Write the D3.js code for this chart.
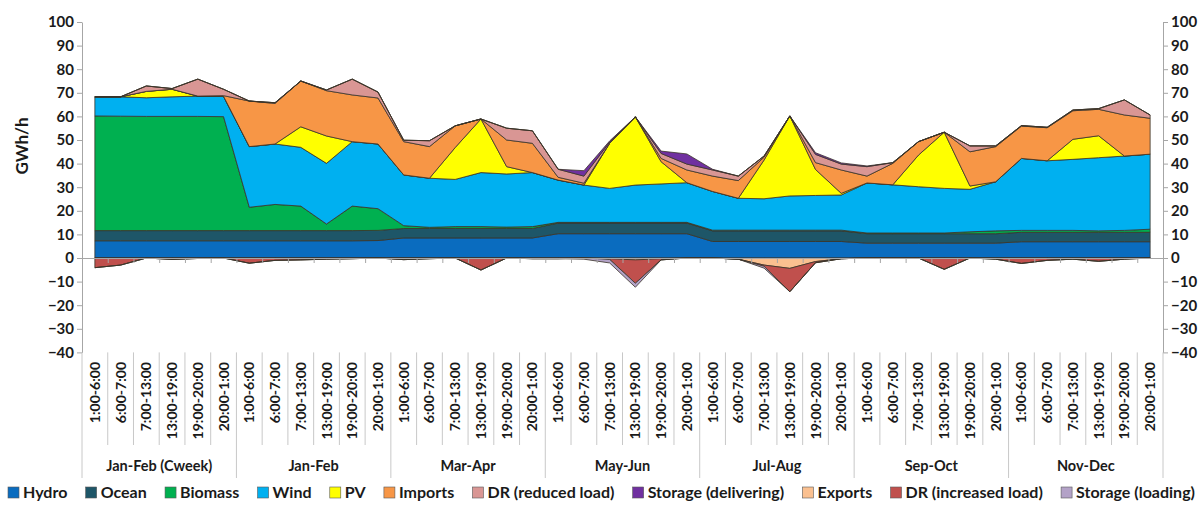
<!DOCTYPE html>
<html><head><meta charset="utf-8">
<script src="https://cdn.jsdelivr.net/npm/d3@7"></script>
<style>
body{margin:0;background:#fff}
svg{display:block}
text{font-family:Lato,"Open Sans",sans-serif;font-weight:bold;fill:#1a1a1a}
</style>
</head><body>
<svg id="c" width="1200" height="511"></svg>
<script>
const groups = ["Jan-Feb (Cweek)","Jan-Feb","Mar-Apr","May-Jun","Jul-Aug","Sep-Oct","Nov-Dec"];
const slots = ["1:00-6:00","6:00-7:00","7:00-13:00","13:00-19:00","19:00-20:00","20:00-1:00"];
const yTicks = [-40,-30,-20,-10,0,10,20,30,40,50,60,70,80,90,100];
const seriesNames = ["Hydro","Ocean","Biomass","Wind","PV","Imports","DR (reduced load)","Storage (delivering)","Exports","DR (increased load)","Storage (loading)"];

const hydro = [
  7.3,7.3,7.3,7.3,7.3,7.3,
  7.3,7.3,7.3,7.3,7.3,7.4,
  8.5,8.5,8.5,8.5,8.5,8.5,
  10.3,10.3,10.3,10.3,10.3,10.3,
  7.0,7.0,7.0,7.0,7.0,7.0,
  6.3,6.3,6.3,6.3,6.3,6.3,
  6.9,6.9,6.9,6.9,6.9,6.9];
const ocean = [
  4.3,4.3,4.3,4.3,4.3,4.3,
  4.3,4.3,4.3,4.3,4.3,4.3,
  4.0,4.0,4.0,4.0,4.0,4.0,
  4.5,4.5,4.5,4.5,4.5,4.5,
  4.5,4.5,4.5,4.5,4.5,4.5,
  4.0,4.0,4.0,4.0,4.0,4.0,
  4.0,4.0,4.0,4.0,4.0,4.0];
const biomass = [
  48.6,48.5,48.4,48.4,48.4,48.3,
  9.9,11.1,10.4,2.8,10.4,9.2,
  1.2,0.5,0.8,0.8,0.6,0.8,
  0.3,0.3,0.3,0.3,0.3,0.3,
  0.3,0.3,0.3,0.3,0.3,0.3,
  0.3,0.3,0.3,0.3,0.8,1.2,
  0.8,0.8,0.8,0.6,0.8,1.3];
const wind = [
  8.1,8.2,7.9,8.3,8.6,8.6,
  25.7,25.6,24.9,25.7,27.3,27.4,
  21.5,20.8,20.0,22.9,22.5,22.9,
  17.9,15.8,14.4,15.8,16.3,16.8,
  16.4,13.5,13.3,14.5,14.7,14.9,
  21.2,20.4,19.6,18.9,18.0,20.8,
  30.5,29.5,30.1,31.0,31.5,31.8];
const pv = [
  0,0,2.7,3.2,0,0,
  0,0,8.7,11.6,0,0,
  0,0,13.5,22.7,3.1,0,
  0,0,19.1,28.9,9.4,0,
  0,0,16.4,33.9,11.0,0.7,
  0,0,13.4,23.8,1.4,0,
  0,0,8.5,9.3,0,0];
const imports = [
  0,0,0,0,0,0.3,
  19.3,17.2,19.4,19.2,19.8,19.5,
  14.1,13.4,9.2,0,11.3,12.4,
  1.2,0.8,0,0,1.4,5.4,
  6.5,7.5,1.2,0,2.9,9.9,
  2.9,9.1,5.7,0,14.5,14.9,
  13.7,14.0,12.1,11.2,17.4,15.2];
const drReduced = [
  0,0,2.3,0.3,7.2,2.7,
  0,0.3,0,0.3,6.7,2.5,
  0.6,2.5,0,0,5.0,5.3,
  3.4,3.0,0.5,0,2.1,2.5,
  2.6,1.9,0.5,0,3.5,2.5,
  4.0,0.3,0,0,2.5,0.3,
  0.2,0.2,0.3,0.3,6.4,1.4];
const storageDelivering = [
  0,0,0,0,0,0,
  0,0,0,0,0,0,
  0,0,0,0,0,0,
  0,2.3,0.5,0,1.0,4.3,
  0.3,0,0,0,0.7,0.5,
  0.3,0,0,0,0,0,
  0,0,0,0,0,0];
const exportsV = [
  0,0,0,0,0,0,
  0,0,0,0,0,0,
  0,0,0,0,0,0,
  0,0,-0.3,-0.8,-0.3,0,
  0,-0.5,-3.0,-4.4,-1.5,-0.3,
  0,0,0,0,0,0,
  0,0,0,0,0,0];
const drIncreased = [
  -4.1,-3.0,0,-0.6,-0.2,0,
  -2.2,-1.0,-0.8,-0.5,-0.3,0,
  -0.7,-0.3,0,-5.1,0,-0.3,
  -0.3,0,-0.3,-9.9,-0.5,0,
  0,0,-0.5,-9.9,-0.5,0,
  0,0,0,-4.8,0,-0.5,
  -2.3,-1.0,-0.5,-1.4,-0.5,0];
const storageLoading = [
  0,0,0,0,0,0,
  0,0,0,0,0,0,
  0,0,0,0,0,0,
  0,-0.5,-1.5,-1.7,0,0,
  0,0,-0.8,0,0,0,
  0,0,0,0,0,0,
  0,0,0,0,0,0];

const colors = ["#0a6cbf","#1e5668","#00b050","#00b0f0","#ffff00","#f79646","#d99694","#7030a0","#fac090","#c0504d","#b3a2c7"];

const valuesBySeries = [hydro,ocean,biomass,wind,pv,imports,drReduced,storageDelivering,exportsV,drIncreased,storageLoading];
const nCat = groups.length*slots.length;
const rows = d3.range(nCat).map(i => {
  const r = {i};
  seriesNames.forEach((s,k)=> r[s] = valuesBySeries[k][i]);
  return r;
});
const posKeys = seriesNames.slice(0,8);
const negKeys = seriesNames.slice(8);
const posStack = d3.stack().keys(posKeys)(rows);
const negStack = d3.stack().keys(negKeys)(rows);

const svg = d3.select("#c");
const L = 82, R = 1163, T = 22, B = 352.4;
const xb = d3.scaleBand().domain(d3.range(nCat)).range([L,R]);
const xc = i => xb(i) + xb.bandwidth()/2;
const xEdge = d3.scaleLinear().domain([0,nCat]).range([L,R]);
const y = d3.scaleLinear().domain([-40,100]).range([B,T]);

// areas
const area = d3.area().x(d=>xc(d.data.i)).y0(d=>y(d[0])).y1(d=>y(d[1]));
const gA = svg.append("g");
[...posStack, ...negStack].forEach(s => {
  const k = seriesNames.indexOf(s.key);
  gA.append("path").attr("d", area(s)).attr("fill", colors[k])
    .attr("stroke","#3a3328").attr("stroke-width",0.8).attr("stroke-linejoin","round");
});

// zero axis with boundary ticks
const xAxis = d3.axisBottom(xEdge).tickValues(d3.range(nCat+1)).tickFormat("").tickSize(5).tickSizeOuter(0);
const gx = svg.append("g").attr("transform",`translate(0,${y(0)})`).call(xAxis);
gx.selectAll("path,line").attr("stroke","#a6a6a6");

// y axes
const yl = svg.append("g").attr("transform",`translate(${L},0)`).call(d3.axisLeft(y).tickValues(yTicks).tickSize(5).tickPadding(3).tickSizeOuter(0));
const yr = svg.append("g").attr("transform",`translate(${R},0)`).call(d3.axisRight(y).tickValues(yTicks).tickSize(5).tickPadding(3).tickSizeOuter(0));
[yl,yr].forEach(g=>{
  g.selectAll("path,line").attr("stroke","#a6a6a6");
  g.selectAll("text").style("font-size","15px").style("font-family","Lato, 'Open Sans', sans-serif").style("font-weight","bold").attr("fill","#1a1a1a");
});
svg.append("text").attr("transform",`translate(28,146) rotate(-90)`).attr("text-anchor","middle")
  .style("font-size","17px").text("GWh/h");

// category separators
const gc = svg.append("g");
d3.range(nCat+1).forEach(e=>{
  const isG = e % slots.length === 0;
  gc.append("line").attr("x1",xEdge(e)).attr("x2",xEdge(e)).attr("y1",B).attr("y2", isG ? 478 : 445)
    .attr("stroke","#c8c8c8").attr("stroke-width",1);
});
d3.range(nCat).forEach(i=>{
  gc.append("text").attr("transform",`translate(${xc(i)+5},362) rotate(-90)`).attr("text-anchor","end")
    .style("font-size","14px").text(slots[i % slots.length]);
});
groups.forEach((g,k)=>{
  const cx = (xEdge(k*slots.length)+xEdge((k+1)*slots.length))/2;
  gc.append("text").attr("x",cx).attr("y",471).attr("text-anchor","middle").style("font-size","14.5px").text(g);
});

// legend
const gl = svg.append("g");
const items = seriesNames.map((s,k)=>{
  const t = gl.append("text").attr("y",498).style("font-size","16px").text(s);
  return {t, w: t.node().getComputedTextLength(), k};
});
const sw = 11, sg = 4;
const total = d3.sum(items, d=>sw+sg+d.w);
const gap = (1187 - total)/(items.length-1);
let cx = 8;
items.forEach(d=>{
  gl.append("rect").attr("x",cx).attr("y",487).attr("width",sw).attr("height",sw)
    .attr("fill",colors[d.k]).attr("stroke","#595959").attr("stroke-width",0.6);
  d.t.attr("x",cx+sw+sg);
  cx += sw+sg+d.w+gap;
});
</script>
</body></html>
